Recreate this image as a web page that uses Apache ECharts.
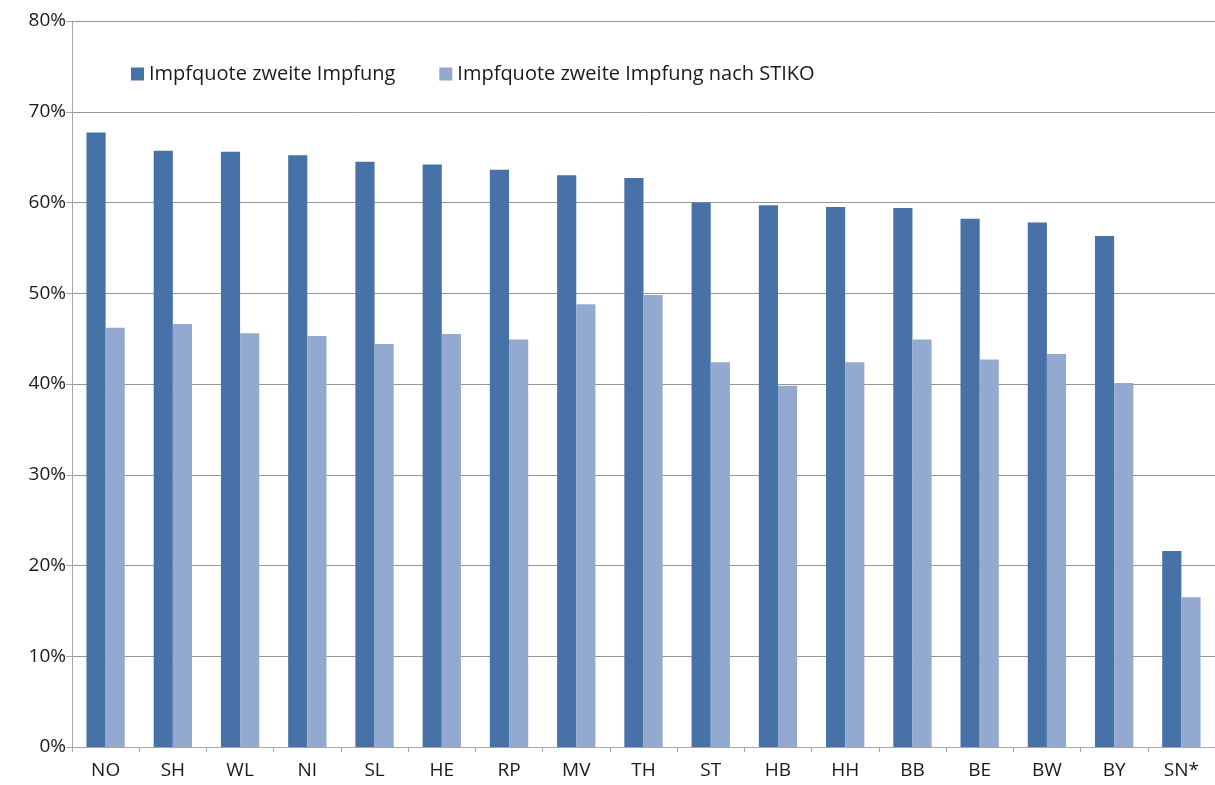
<!DOCTYPE html>
<html>
<head>
<meta charset="utf-8">
<script src="https://cdn.jsdelivr.net/npm/echarts@6/dist/echarts.min.js"></script>
<style>
  html, body { margin: 0; padding: 0; background: #ffffff; }
  #chart { width: 1215px; height: 785px; }
</style>
</head>
<body>
<div id="chart"></div>
<script>
// Federal states (abbreviations), sorted by the overall second-dose rate
var categories = ['NO', 'SH', 'WL', 'NI', 'SL', 'HE', 'RP', 'MV', 'TH', 'ST', 'HB', 'HH', 'BB', 'BE', 'BW', 'BY', 'SN*'];

// Second-dose vaccination rate, in percent
var quoteZweite = [67.7, 65.7, 65.6, 65.2, 64.5, 64.2, 63.6, 63.0, 62.7, 60.0, 59.7, 59.5, 59.4, 58.2, 57.8, 56.3, 21.6];

// Second-dose vaccination rate according to STIKO, in percent
var quoteStiko = [46.2, 46.6, 45.6, 45.3, 44.4, 45.5, 44.9, 48.8, 49.8, 42.4, 39.8, 42.4, 44.9, 42.7, 43.3, 40.1, 16.5];

var seriesNames = ['Impfquote zweite Impfung', 'Impfquote zweite Impfung nach STIKO'];

var FONT = 'Open Sans';
var AXIS_GRAY = '#a6a6a6';
var GRID_GRAY = '#969696';

var chart = echarts.init(document.getElementById('chart'), null, { renderer: 'canvas' });

chart.setOption({
  animation: false,
  backgroundColor: '#ffffff',
  textStyle: { fontFamily: FONT },
  legend: {
    left: 126,
    top: 59,
    itemWidth: 13,
    itemHeight: 13,
    itemGap: 44,
    icon: 'rect',
    textStyle: { fontFamily: FONT, fontSize: 20, color: '#1a1a1a' },
    data: seriesNames
  },
  grid: {
    left: 72,
    right: 0,
    top: 21,
    bottom: 38,
    containLabel: false
  },
  xAxis: {
    type: 'category',
    data: categories,
    boundaryGap: true,
    axisLine: { show: true, lineStyle: { color: AXIS_GRAY, width: 1 } },
    axisTick: { show: true, length: 5, alignWithLabel: false, lineStyle: { color: AXIS_GRAY } },
    axisLabel: { fontFamily: FONT, fontSize: 19, color: '#1a1a1a', margin: 14 },
    splitLine: { show: false }
  },
  yAxis: {
    type: 'value',
    min: 0,
    max: 80,
    interval: 10,
    axisLine: { show: true, lineStyle: { color: AXIS_GRAY, width: 1 } },
    axisTick: { show: true, length: 6, lineStyle: { color: AXIS_GRAY } },
    axisLabel: {
      fontFamily: FONT,
      fontSize: 19,
      color: '#1a1a1a',
      margin: 6,
      formatter: function (v) { return v + '%'; }
    },
    splitLine: { show: true, lineStyle: { color: GRID_GRAY, width: 1 } }
  },
  series: [
    {
      name: seriesNames[0],
      type: 'bar',
      data: quoteZweite,
      barGap: '0%',
      barCategoryGap: '43%',
      itemStyle: { color: '#4672a8' }
    },
    {
      name: seriesNames[1],
      type: 'bar',
      data: quoteStiko,
      barGap: '0%',
      barCategoryGap: '43%',
      itemStyle: { color: '#93a9d0' }
    }
  ]
});
</script>
</body>
</html>
